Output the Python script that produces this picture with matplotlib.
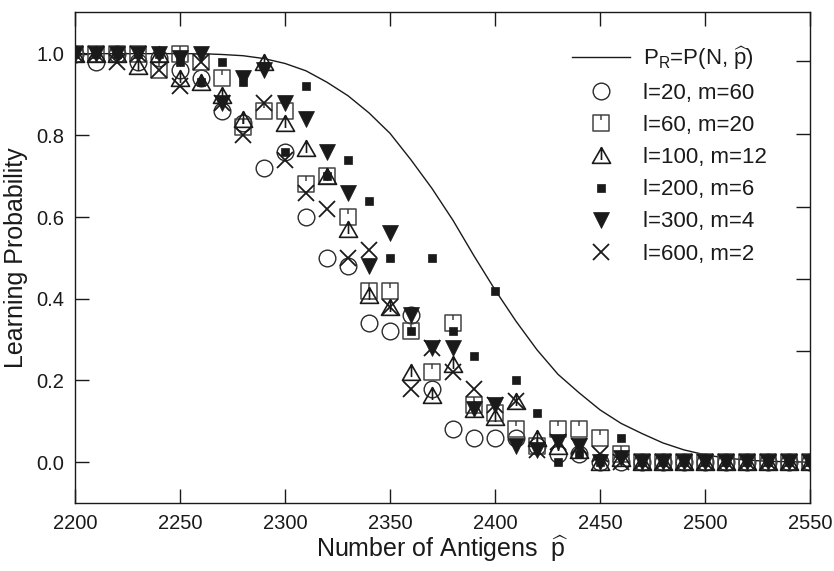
import numpy as np
import matplotlib
matplotlib.use('Agg')
import matplotlib.pyplot as plt
from matplotlib.path import Path

plt.rcParams['font.family'] = ['Liberation Sans', 'DejaVu Sans']
plt.rcParams['mathtext.fontset'] = 'custom'
plt.rcParams['mathtext.rm'] = 'Liberation Sans'
plt.rcParams['mathtext.it'] = 'Liberation Sans:italic'

# ---------------- data ----------------
antigens = [2200, 2210, 2220, 2230, 2240, 2250, 2260, 2270, 2280, 2290,
            2300, 2310, 2320, 2330, 2340, 2350, 2360, 2370, 2380, 2390,
            2400, 2410, 2420, 2430, 2440, 2450, 2460, 2470, 2480, 2490,
            2500, 2510, 2520, 2530, 2540, 2550]

theory = [1.000, 1.000, 1.000, 1.000, 1.000, 1.000, 1.000, 0.998, 0.995, 0.988,
          0.976, 0.958, 0.930, 0.897, 0.855, 0.805, 0.740, 0.670, 0.592, 0.505,
          0.422, 0.345, 0.275, 0.215, 0.170, 0.128, 0.095, 0.070, 0.047, 0.030,
          0.018, 0.010, 0.005, 0.002, 0.001, 0.000]

l20_m60 = [1.00, 0.98, 1.00, 0.98, 0.99, 0.96, 0.94, 0.86, 0.83, 0.72,
           0.76, 0.60, 0.50, 0.48, 0.34, 0.32, 0.36, 0.18, 0.08, 0.06,
           0.06, 0.06, 0.04, 0.02, 0.02, 0.00, 0.00, 0.00, 0.00, 0.00,
           0.00, 0.00, 0.00, 0.00, 0.00, 0.00]

l60_m20 = [1.00, 1.00, 1.00, 1.00, 0.96, 1.00, 0.98, 0.94, 0.82, 0.86,
           0.86, 0.68, 0.70, 0.60, 0.42, 0.42, 0.32, 0.22, 0.34, 0.14,
           0.12, 0.08, 0.04, 0.08, 0.08, 0.06, 0.02, 0.00, 0.00, 0.00,
           0.00, 0.00, 0.00, 0.00, 0.00, 0.00]

l100_m12 = [1.00, 1.00, 1.00, 0.97, 1.00, 0.94, 0.93, 0.90, 0.84, 0.98,
            0.83, 0.77, 0.70, 0.57, 0.41, 0.38, 0.22, 0.165, 0.24, 0.13,
            0.11, 0.15, 0.06, 0.04, 0.03, 0.00, 0.01, 0.00, 0.00, 0.00,
            0.00, 0.00, 0.00, 0.00, 0.00, 0.00]

l200_m6 = [1.00, 1.00, 1.00, 1.00, 1.00, 0.98, 0.93, 0.98, 0.93, 0.97,
           0.76, 0.92, 0.70, 0.74, 0.64, 0.50, 0.32, 0.50, 0.32, 0.26,
           0.42, 0.20, 0.12, 0.00, 0.02, 0.00, 0.06, 0.00, 0.00, 0.00,
           0.00, 0.00, 0.00, 0.00, 0.00, 0.00]

l300_m4 = [1.00, 1.00, 1.00, 1.00, 1.00, 0.99, 1.00, 0.88, 0.94, 0.96,
           0.88, 0.84, 0.76, 0.66, 0.48, 0.56, 0.36, 0.28, 0.28, 0.13,
           0.14, 0.04, 0.03, 0.05, 0.04, 0.00, 0.01, 0.00, 0.00, 0.00,
           0.00, 0.00, 0.00, 0.00, 0.00, 0.00]

l600_m2 = [1.00, 1.00, 0.98, 1.00, 0.96, 0.92, 0.98, 0.88, 0.80, 0.88,
           0.74, 0.66, 0.62, 0.50, 0.52, 0.38, 0.18, 0.28, 0.22, 0.18,
           0.14, 0.15, 0.03, 0.05, 0.04, 0.02, 0.00, 0.00, 0.00, 0.00,
           0.00, 0.00, 0.00, 0.00, 0.00, 0.00]

x_ticks = [2200, 2250, 2300, 2350, 2400, 2450, 2500, 2550]
y_ticks = [0.0, 0.2, 0.4, 0.6, 0.8, 1.0]
right_ticks = [0.982, 0.803, 0.624, 0.448, 0.272]

# ---------------- custom markers ----------------
M, L, C = Path.MOVETO, Path.LINETO, Path.CLOSEPOLY
sq_tick = Path([(-1, -1), (1, -1), (1, 1), (-1, 1), (-1, -1), (0, 1), (0, 0.35)],
               [M, L, L, L, C, M, L])
tri_tick = Path([(0, 0.87), (-1, -0.87), (1, -0.87), (0, 0.87), (0, 0.87), (0, -0.5)],
                [M, L, L, C, M, L])

# ---------------- figure ----------------
fig = plt.figure(figsize=(8.34, 5.71), dpi=100)
ax = fig.add_axes([75 / 834, 1 - 503 / 571, (810 - 75) / 834, (503 - 12) / 571])

ink = '#1a1a1a'
ax.plot(antigens, theory, '-', color=ink, lw=1.0,
        label=r'P$_{\mathrm{R}}$=P(N, $\widehat{\mathrm{p}}$)')
ax.plot(antigens, l20_m60, linestyle='none', marker='o', ms=12, mfc='none',
        mec='#2a2a2a', mew=1.0, label='l=20, m=60')
ax.plot(antigens, l60_m20, linestyle='none', marker=sq_tick, ms=11, mfc='none',
        mec='#444444', mew=1.1, label='l=60, m=20')
ax.plot(antigens, l100_m12, linestyle='none', marker=tri_tick, ms=13, mfc='none',
        mec=ink, mew=1.2, label='l=100, m=12')
ax.plot(antigens, l200_m6, linestyle='none', marker='s', ms=6, mfc=ink,
        mec=ink, mew=0.5, label='l=200, m=6')
ax.plot(antigens, l300_m4, linestyle='none', marker='v', ms=11, mfc=ink,
        mec=ink, mew=0.5, label='l=300, m=4')
ax.plot(antigens, l600_m2, linestyle='none', marker='x', ms=12, mfc='none',
        mec=ink, mew=1.3, label='l=600, m=2')

ax.set_xlim(2200, 2550)
ax.set_ylim(-0.1, 1.102)
ax.set_xticks(x_ticks)
ax.set_yticks(y_ticks)
ax.set_yticklabels(['%.1f' % v for v in y_ticks])
ax.tick_params(axis='both', direction='in', length=10, width=1.0,
               labelsize=14.5, colors=ink, pad=8)
ax.tick_params(axis='x', top=True)
for s in ax.spines.values():
    s.set_linewidth(1.0)
    s.set_color(ink)

ax2 = ax.twinx()
ax2.set_ylim(ax.get_ylim())
ax2.set_yticks(right_ticks)
ax2.tick_params(axis='y', direction='in', length=10, width=1.0,
                labelright=False, colors=ink)
for s in ax2.spines.values():
    s.set_visible(False)

ax.set_xlabel(r'Number of Antigens  $\widehat{\mathrm{p}}$', fontsize=18,
              color=ink, labelpad=0)
ax.set_ylabel('Learning Probability', fontsize=18, color=ink, labelpad=6)

leg = ax.legend(loc='upper left', bbox_to_anchor=(572 / 834, 1 - 44 / 571),
                bbox_transform=fig.transFigure, frameon=False, fontsize=16,
                borderpad=0, borderaxespad=0, handlelength=2.6,
                handletextpad=0.6, labelspacing=0.5)
for t in leg.get_texts():
    t.set_color(ink)

fig.savefig('out.png', dpi=100)
